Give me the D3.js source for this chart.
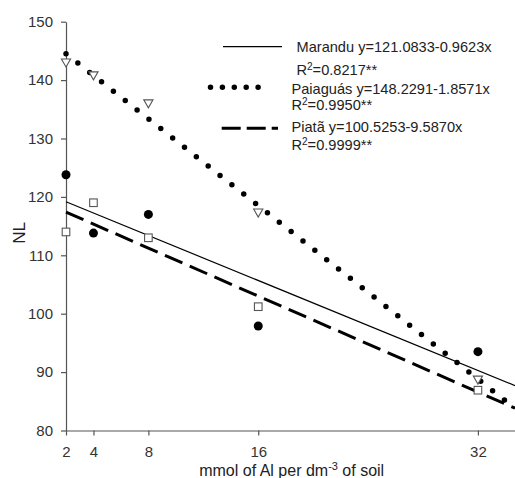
<!DOCTYPE html>
<html>
<head>
<meta charset="utf-8">
<script src="https://cdn.jsdelivr.net/npm/d3@7"></script>
<style>
  html, body { margin: 0; padding: 0; background: #fff; }
  svg text { font-family: "Liberation Sans", Arial, sans-serif; }
</style>
</head>
<body>
<svg id="chart" width="515" height="478"></svg>
<script>
// ---- data ----
const doses = [2, 4, 8, 16, 32];
const xTicks = [2, 4, 8, 16, 32];
const yTicks = [80, 90, 100, 110, 120, 130, 140, 150];
const maranduValues = [123.8, 113.8, 117.0, 97.9, 93.5];
const paiaguasValues = [143.0, 140.8, 136.0, 117.3, 88.7];
const piataValues = [114.0, 119.0, 113.0, 101.2, 86.9];
const seriesNames = ["Marandu", "Paiaguás", "Piatã"];
const fitIntercepts = [121.0833, 148.2291, 119.45];
const fitSlopes = [-0.9623, -1.8571, -1.027];
const eqLabels = ["y=121.0833-0.9623x", "y=148.2291-1.8571x", "y=100.5253-9.5870x"];
const r2Labels = ["=0.8217**", "=0.9950**", "=0.9999**"];
const xDomain = [2, 34.7];
const yDomain = [80, 150];

// ---- chart ----
const svg = d3.select("#chart");
const x = d3.scaleLinear().domain(xDomain).range([66, 515]);
const y = d3.scaleLinear().domain(yDomain).range([430.5, 21.7]);
const axisColor = "#555";
const textColor = "#222";

// axes
const gx = svg.append("g").attr("transform", `translate(0,${y(80)})`)
  .call(d3.axisBottom(x).tickValues(xTicks).tickSize(5).tickSizeOuter(0).tickPadding(11).tickFormat(d3.format("d")));
const gy = svg.append("g").attr("transform", `translate(${x(2)},0)`)
  .call(d3.axisLeft(y).tickValues(yTicks).tickSize(5).tickSizeOuter(0).tickPadding(8).tickFormat(d3.format("d")));
[gx, gy].forEach(g => {
  g.selectAll("path, line").attr("stroke", axisColor).attr("stroke-width", 1.2);
  g.selectAll("text").attr("fill", "#333").style("font-size", "15px")
    .style("font-family", "'Liberation Sans', Arial, sans-serif");
});

// axis titles
svg.append("text").attr("transform", "translate(25,233) rotate(-90)")
  .attr("text-anchor", "middle").style("font-size", "17px").attr("fill", textColor).text("NL");
const xt = svg.append("text").attr("x", 291.7).attr("y", 475.5)
  .attr("text-anchor", "middle").style("font-size", "16px").attr("fill", textColor);
xt.append("tspan").text("mmol of Al per dm");
xt.append("tspan").attr("dy", -6).style("font-size", "11px").text("-3");
xt.append("tspan").attr("dy", 6).text(" of soil");

// regression lines
const styles = [
  { width: 1.2, dash: null, cap: "butt" },
  { width: 5.5, dash: "0 15.1", cap: "round" },
  { width: 3, dash: "19 8", cap: "butt" }
];
const line = d3.line().x(d => x(d[0])).y(d => y(d[1]));
seriesNames.forEach((name, i) => {
  const pts = xDomain.map(v => [v, fitIntercepts[i] + fitSlopes[i] * v]);
  const p = svg.append("path").datum(pts).attr("d", line)
    .attr("fill", "none").attr("stroke", "#000")
    .attr("stroke-width", styles[i].width).attr("stroke-linecap", styles[i].cap);
  if (styles[i].dash) p.attr("stroke-dasharray", styles[i].dash);
});

// markers
const markerStroke = "#555";
svg.append("g").selectAll("rect").data(doses.map((d, i) => [d, piataValues[i]])).join("rect")
  .attr("x", d => x(d[0]) - 3.8).attr("y", d => y(d[1]) - 3.8)
  .attr("width", 7.6).attr("height", 7.6)
  .attr("fill", "#fff").attr("stroke", markerStroke).attr("stroke-width", 1.1);
svg.append("g").selectAll("path").data(doses.map((d, i) => [d, paiaguasValues[i]])).join("path")
  .attr("d", d => {
    const cx = x(d[0]), cy = y(d[1]);
    return `M${cx - 4.6},${cy - 3.6}L${cx + 4.6},${cy - 3.6}L${cx},${cy + 4.4}Z`;
  })
  .attr("fill", "#fff").attr("stroke", markerStroke).attr("stroke-width", 1.1);
svg.append("g").selectAll("circle").data(doses.map((d, i) => [d, maranduValues[i]])).join("circle")
  .attr("cx", d => x(d[0])).attr("cy", d => y(d[1])).attr("r", 4.5).attr("fill", "#000");

// legend
const leg = svg.append("g");
leg.append("line").attr("x1", 223).attr("x2", 282).attr("y1", 46.7).attr("y2", 46.7)
  .attr("stroke", "#000").attr("stroke-width", 1.2);
leg.append("line").attr("x1", 210.5).attr("x2", 270).attr("y1", 87.3).attr("y2", 87.3)
  .attr("stroke", "#000").attr("stroke-width", 5.5).attr("stroke-linecap", "round")
  .attr("stroke-dasharray", "0 11.9");
leg.append("line").attr("x1", 221.7).attr("x2", 278).attr("y1", 128.3).attr("y2", 128.3)
  .attr("stroke", "#000").attr("stroke-width", 3).attr("stroke-dasharray", "19 6");

const legText = [
  { x: 296.5, y1: 52, x2: 296.5, y2: 75.3 },
  { x: 291.5, y1: 93.5, x2: 291.5, y2: 110.3 },
  { x: 291.5, y1: 132, x2: 291.5, y2: 150.3 }
];
seriesNames.forEach((name, i) => {
  const t = legText[i];
  leg.append("text").attr("x", t.x).attr("y", t.y1).style("font-size", "14.6px").attr("fill", textColor)
    .text(name + " " + eqLabels[i]);
  const r = leg.append("text").attr("x", t.x2).attr("y", t.y2).style("font-size", "14.6px").attr("fill", textColor);
  r.append("tspan").text("R");
  r.append("tspan").attr("dy", -5).style("font-size", "10px").text("2");
  r.append("tspan").attr("dy", 5).text(r2Labels[i]);
});
</script>
</body>
</html>
